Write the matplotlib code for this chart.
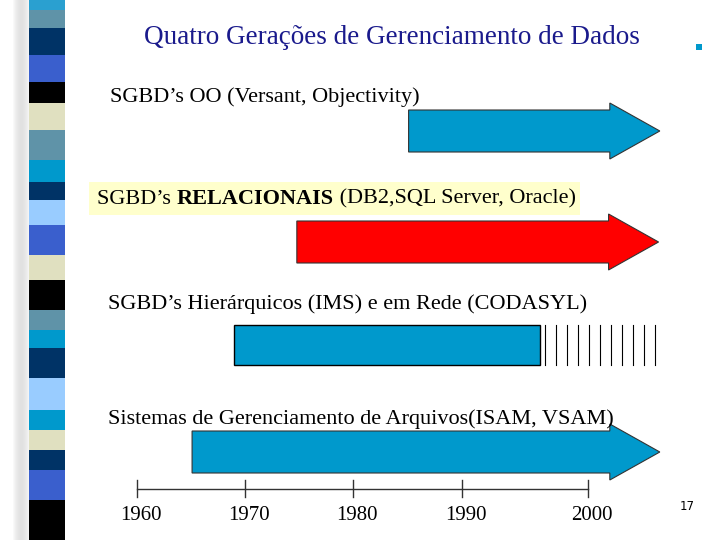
import numpy as np
import matplotlib.pyplot as plt
from matplotlib.patches import Rectangle, FancyArrow

# timeline ticks and their positions on the slide
tick_years = [1960, 1970, 1980, 1990, 2000]
tick_px = [137, 245, 353, 462, 588]

labels = ["SGBD’s OO (Versant, Objectivity)",
          "SGBD’s RELACIONAIS (DB2,SQL Server, Oracle)",
          "SGBD’s Hierárquicos (IMS) e em Rede (CODASYL)",
          "Sistemas de Gerenciamento de Arquivos(ISAM, VSAM)"]
start_year = [1985.1, 1974.8, 1969.0, 1965.1]
end_year = [2005.7, 2005.6, 1996.2, 2005.7]
hatch_end = 2005.3
bar_colors = ["#0099cc", "#ff0000", "#0099cc", "#0099cc"]

stripe_edges = [0, 10, 28, 55, 82, 103, 130, 160, 182, 200, 225, 255, 280, 310, 330,
                348, 378, 410, 430, 450, 470, 500, 540]
stripe_colors = ["#2aa0d0", "#5f93a8", "#003366", "#3a5fcd", "#000000", "#e0e0c0",
                 "#5f93a8", "#0099cc", "#003366", "#99ccff", "#3a5fcd", "#e0e0c0",
                 "#000000", "#5f93a8", "#0099cc", "#003366", "#99ccff", "#0099cc",
                 "#e0e0c0", "#003366", "#3a5fcd", "#000000"]

def px(year):
    if year <= 2000:
        return np.interp(year, tick_years, tick_px)
    return tick_px[-1] + (year - 2000) * (tick_px[-1] - tick_px[-2]) / 10

fig = plt.figure(figsize=(7.2, 5.4), dpi=100)
ax = fig.add_axes([0, 0, 1, 1])
ax.set_xlim(0, 720)
ax.set_ylim(540, 0)
ax.axis("off")

serif = "Liberation Serif"
fs = 16

# decorative stripe on the left
for i in range(8):
    ax.add_patch(Rectangle((20 - i, 0), 10, 540, color="#d8d8d8", alpha=0.15, lw=0))
for y0, y1, c in zip(stripe_edges[:-1], stripe_edges[1:], stripe_colors):
    ax.add_patch(Rectangle((29, y0), 36, y1 - y0, color=c, lw=0))

ax.text(392, 38, "Quatro Gerações de Gerenciamento de Dados", ha="center", va="center",
        fontsize=19.5, color="#1a1a8c", family=serif)
ax.add_patch(Rectangle((696, 44), 6, 6, color="#0099cc", lw=0))

ys = [131, 242, 345, 452]
hh = 21

for i in range(4):
    x0, x1 = px(start_year[i]), px(end_year[i])
    y = ys[i]
    if i == 2:
        ax.add_patch(Rectangle((x0, y - 20), x1 - x0, 40, facecolor=bar_colors[i],
                               edgecolor="black", lw=1))
        for xl in np.linspace(x1 + 5, px(hatch_end), 11):
            ax.plot([xl, xl], [y - 20, y + 20], color="black", lw=0.8)
    else:
        ax.add_patch(FancyArrow(x0, y, x1 - x0, 0, width=2 * hh, head_width=56,
                                head_length=50, length_includes_head=True,
                                facecolor=bar_colors[i], edgecolor="#333333", lw=0.8))

ax.text(110, 97, labels[0], fontsize=fs, family=serif, va="center")
ax.add_patch(Rectangle((89, 182), 491, 33, color="#ffffcc", lw=0))

# relational label in three runs, the middle one bold
fig.canvas.draw()
r = fig.canvas.get_renderer()
x = 97
for part, w in [("SGBD’s ", "normal"), ("RELACIONAIS", "bold"), (" (DB2,SQL Server, Oracle)", "normal")]:
    t = ax.text(x, 199, part, fontsize=fs, family=serif, va="center", weight=w)
    bb = t.get_window_extent(renderer=r)
    x += bb.width

ax.text(108, 304, labels[2], fontsize=fs, family=serif, va="center")
ax.text(108, 419, labels[3], fontsize=fs, family=serif, va="center")

# timeline
ax.plot([tick_px[0], tick_px[-1]], [489, 489], color="#333333", lw=1)
for yr in tick_years:
    ax.plot([px(yr), px(yr)], [480, 497], color="#333333", lw=1)
    ax.text(px(yr) + 4, 516, str(yr), ha="center", va="center", fontsize=15, family=serif)

ax.text(687, 507, "17", ha="center", va="center", fontsize=8.5)

fig.savefig("out.png", dpi=100)
